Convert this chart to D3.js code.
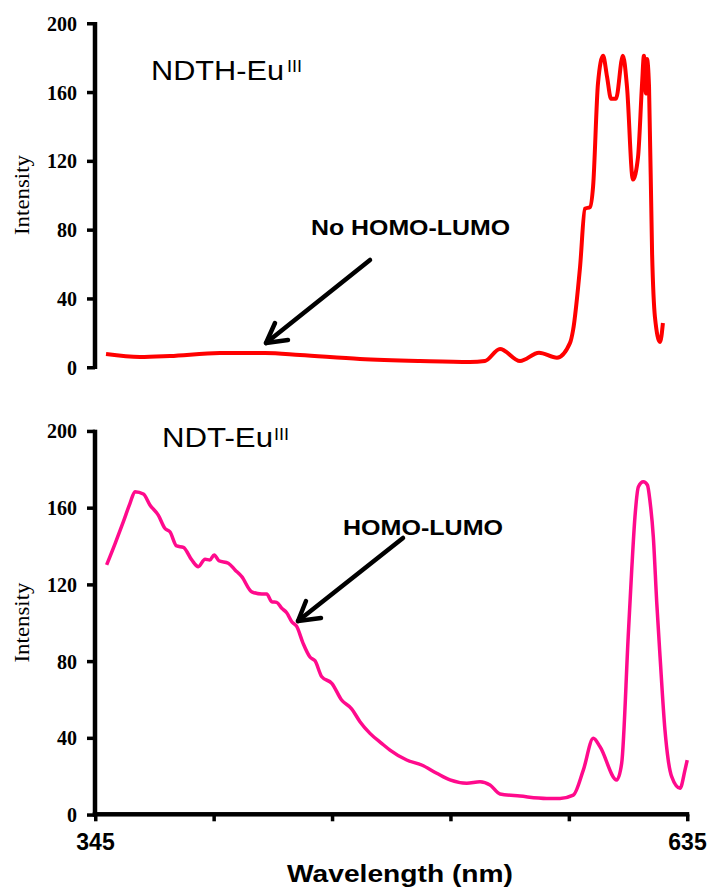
<!DOCTYPE html>
<html>
<head>
<meta charset="utf-8">
<script src="https://cdn.jsdelivr.net/npm/d3@7"></script>
<style>
  html, body { margin: 0; padding: 0; background: #fff; }
  svg { display: block; }
</style>
</head>
<body>
<svg id="chart" width="718" height="891"></svg>
<script>
// ---------- data ----------
const wavelengthTop = [350.4, 367.0, 381.7, 406.2, 428.3, 445.4, 474.8, 504.2, 528.7, 536.0, 543.4, 553.2, 562.5, 571.3, 577.7, 579.2, 582.6, 585.0, 587.5, 589.0, 591.4, 593.9, 595.8, 597.8, 600.2, 603.6, 605.6, 608.5, 611.0, 613.0, 613.9, 614.9, 615.4, 616.4, 617.9, 619.3, 621.8, 623.2];
const intensityTop  = [7.5, 5.8, 6.4, 8.1, 8.1, 7.0, 4.7, 3.5, 2.9, 3.5, 10.5, 3.5, 8.3, 5.4, 14, 21.5, 58, 92, 93, 105, 165, 181, 169, 156, 156, 181, 163, 109, 122, 165, 181, 159, 179, 163, 66, 29, 14.5, 25.6];

const wavelengthBottom = [350.7, 354.8, 358.9, 362.1, 364.6, 368.7, 371.9, 376.0, 379.3, 381.7, 385.0, 388.3, 392.4, 395.6, 398.9, 401.3, 403.4, 405.7, 410.3, 413.6, 416.9, 421.8, 426.7, 429.1, 431.6, 434.0, 436.5, 438.9, 441.4, 443.8, 447.0, 450.3, 452.8, 456.1, 461.0, 465.8, 470.7, 474.8, 479.7, 485.4, 489.5, 497.7, 505.0, 512.4, 518.9, 527.1, 533.6, 538.5, 543.4, 553.2, 566.3, 572.8, 579.3, 584.2, 589.1, 592.4, 600.6, 603.0, 606.2, 607.9, 609.5, 611.2, 613.6, 615.6, 616.9, 618.5, 620.2, 621.8, 624.2, 625.8, 627.5, 631.6, 634.0, 635.1];
const intensityBottom  = [130, 141, 152.6, 162, 168.2, 167, 161.3, 156, 149, 147.3, 139.9, 139.2, 132.6, 129.1, 133, 132.6, 135.2, 132.2, 130.9, 127.4, 123.9, 116, 114.9, 114.9, 110.8, 110.5, 107.4, 105.1, 100.4, 98, 89, 82, 80, 71.7, 68.3, 59.6, 55, 48.3, 42.2, 37, 33.5, 28.3, 25.7, 21.4, 17.9, 16.2, 17, 15.3, 10.6, 9.5, 8.3, 8.3, 10, 23, 39.6, 35.2, 17.9, 26.6, 92.6, 127, 155, 170.8, 173.4, 171.7, 163, 144.7, 110, 82.2, 44, 28.3, 19.6, 13.6, 23, 28.3];

const yTicks = [0, 40, 80, 120, 160, 200];
const xTicks = [345, 403, 461, 519, 577, 635];
const xTickLabels = ["345", "", "", "", "", "635"];
const xDomain = [345, 635];
const yDomain = [0, 200];

const topTitle = "NDTH-Eu", topSup = "III";
const botTitle = "NDT-Eu", botSup = "III";
const topNote = "No HOMO-LUMO";
const botNote = "HOMO-LUMO";
const yLabel = "Intensity";
const xLabel = "Wavelength (nm)";

// ---------- drawing ----------
const svg = d3.select("#chart");
const x = d3.scaleLinear().domain(xDomain).range([95, 687]);
const yTop = d3.scaleLinear().domain(yDomain).range([367, 23]);
const yBot = d3.scaleLinear().domain(yDomain).range([814.3, 430.7]);

const AXIS_W = 4.5;

function yAxis(scale) {
  const g = svg.append("g").attr("transform", "translate(95,0)")
    .call(d3.axisLeft(scale).tickValues(yTicks).tickSize(8).tickSizeOuter(0).tickPadding(10).tickFormat(d3.format("d")));
  g.select(".domain").remove();
  g.selectAll(".tick line").remove();
  g.selectAll(".tick").append("rect")
    .attr("x", -8).attr("y", -1.5).attr("width", 8).attr("height", 3.5).attr("fill", "#000");
  g.selectAll(".tick text")
    .attr("font-family", "'Liberation Serif','Times New Roman',serif")
    .attr("font-weight", "bold").attr("font-size", 20).attr("fill", "#000")
    .attr("dy", "0.36em");
  const y0 = scale(yDomain[0]), y1 = scale(yDomain[1]);
  svg.append("rect").attr("x", 95 - AXIS_W / 2).attr("y", y1 - 1)
    .attr("width", AXIS_W).attr("height", y0 - y1 + 3).attr("fill", "#000");
  return g;
}

yAxis(yTop);
yAxis(yBot);

// x axis (bottom panel)
const gx = svg.append("g").attr("transform", "translate(0,814.3)")
  .call(d3.axisBottom(x).tickValues(xTicks).tickSize(7).tickSizeOuter(0).tickPadding(8)
    .tickFormat((d, i) => xTickLabels[i]));
gx.select(".domain").remove();
gx.selectAll(".tick line").remove();
gx.selectAll(".tick").append("rect")
  .attr("x", -1.5).attr("y", 0).attr("width", 3.5).attr("height", 7).attr("fill", "#000");
gx.selectAll(".tick text")
  .attr("font-family", "'Liberation Sans',Arial,sans-serif")
  .attr("font-weight", "bold").attr("font-size", 23).attr("fill", "#000")
  .attr("dy", "0.9em");
svg.append("rect").attr("x", x(xDomain[0]) - AXIS_W / 2).attr("y", 814.3 - AXIS_W / 2)
  .attr("width", x(xDomain[1]) - x(xDomain[0]) + AXIS_W).attr("height", AXIS_W).attr("fill", "#000");

// curves
const lineTop = d3.line().x((d, i) => x(wavelengthTop[i])).y((d) => yTop(d)).curve(d3.curveMonotoneX);
svg.append("path").datum(intensityTop).attr("d", lineTop)
  .attr("fill", "none").attr("stroke", "#FF0000").attr("stroke-width", 4).attr("stroke-linejoin", "round");

const lineBot = d3.line().x((d, i) => x(wavelengthBottom[i])).y((d) => yBot(d)).curve(d3.curveMonotoneX);
svg.append("path").datum(intensityBottom).attr("d", lineBot)
  .attr("fill", "none").attr("stroke", "#FF0A8C").attr("stroke-width", 3.5).attr("stroke-linejoin", "round");

// y labels
[yTop, yBot].forEach(s => {
  const cy = (s.range()[0] + s.range()[1]) / 2;
  svg.append("text")
    .attr("transform", `translate(29,${cy}) rotate(-90)`)
    .attr("text-anchor", "middle")
    .attr("font-family", "'Liberation Serif','Times New Roman',serif")
    .attr("font-size", 21).attr("fill", "#000")
    .attr("textLength", 80).attr("lengthAdjust", "spacingAndGlyphs")
    .text(yLabel);
});

// x label
svg.append("text").attr("x", 287).attr("y", 882)
  .attr("font-family", "'Liberation Sans',Arial,sans-serif").attr("font-weight", "bold")
  .attr("font-size", 24).attr("fill", "#000")
  .attr("textLength", 226).attr("lengthAdjust", "spacingAndGlyphs")
  .text(xLabel);

// titles
function title(tx, ty, w, main, sup, sx, sy) {
  svg.append("text").attr("x", tx).attr("y", ty)
    .attr("font-family", "'Liberation Sans',Arial,sans-serif").attr("font-size", 27).attr("fill", "#000")
    .attr("textLength", w).attr("lengthAdjust", "spacingAndGlyphs").text(main);
  svg.append("text").attr("x", sx).attr("y", sy)
    .attr("font-family", "'Liberation Sans',Arial,sans-serif").attr("font-size", 16).attr("fill", "#000")
    .attr("textLength", 15).attr("lengthAdjust", "spacingAndGlyphs").text(sup);
}
title(151, 80, 133, topTitle, topSup, 287, 72);
title(162, 447, 111, botTitle, botSup, 274, 440);

// notes
function note(tx, ty, w, txt) {
  svg.append("text").attr("x", tx).attr("y", ty)
    .attr("font-family", "'Liberation Sans',Arial,sans-serif").attr("font-weight", "bold")
    .attr("font-size", 22).attr("fill", "#000")
    .attr("textLength", w).attr("lengthAdjust", "spacingAndGlyphs").text(txt);
}
note(311, 235, 199, topNote);
note(343, 535, 160, botNote);

// arrows
function arrow(x1, y1, x2, y2, bx1, by1, bx2, by2) {
  const g = svg.append("g").attr("stroke", "#000").attr("stroke-width", 4.5)
    .attr("stroke-linecap", "round").attr("stroke-linejoin", "round").attr("fill", "none");
  g.append("line").attr("x1", x1).attr("y1", y1).attr("x2", x2).attr("y2", y2);
  g.append("path").attr("d", `M${bx1},${by1}L${x2},${y2}L${bx2},${by2}`);
}
arrow(370, 260, 266, 343, 275, 323, 288, 340);
arrow(403, 538, 298, 621, 306, 601, 321, 618);
</script>
</body>
</html>
